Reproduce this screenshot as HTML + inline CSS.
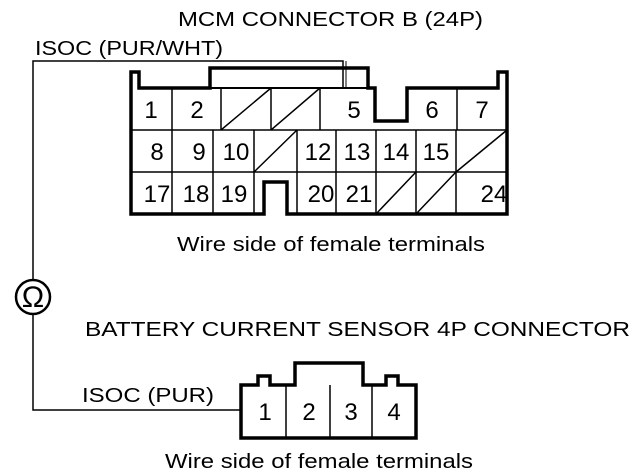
<!DOCTYPE html>
<html><head><style>html,body{margin:0;padding:0;background:#fff}svg{display:block}</style></head>
<body>
<svg width="640" height="474" viewBox="0 0 640 474" xmlns="http://www.w3.org/2000/svg" font-family="Liberation Sans, sans-serif" fill="#000">
<g font-size="20">
<text x="178" y="26" textLength="305" lengthAdjust="spacingAndGlyphs">MCM CONNECTOR B (24P)</text>
<text x="35" y="55" textLength="188" lengthAdjust="spacingAndGlyphs">ISOC (PUR/WHT)</text>
<text x="177" y="251" textLength="308" lengthAdjust="spacingAndGlyphs">Wire side of female terminals</text>
<text x="85" y="336" textLength="545" lengthAdjust="spacingAndGlyphs">BATTERY CURRENT SENSOR 4P CONNECTOR</text>
<text x="82" y="402" textLength="132" lengthAdjust="spacingAndGlyphs">ISOC (PUR)</text>
<text x="165" y="468" textLength="308" lengthAdjust="spacingAndGlyphs">Wire side of female terminals</text>
</g>
<g fill="none" stroke="#000">
<polyline points="33,280 33,61 343,61 343,88" stroke-width="1.5"/>
<line x1="346" y1="61" x2="346" y2="88" stroke-width="1"/>
<circle cx="33" cy="297" r="17" stroke-width="2.5"/>
<polyline points="33,314 33,410 241,410" stroke-width="1.5"/>
<path d="M131,214 L131,72 L139,72 L139,88 L210,88 L210,68 L368,68 L368,88 L375,88 L375,121 L407,121 L407,88 L498,88 L498,72 L507,72 L507,214 L287,214 L287,182 L264,182 L264,214 Z" stroke-width="3.5"/>
<line x1="210" y1="88" x2="368" y2="88" stroke-width="2"/>
<g stroke-width="1.5">
<line x1="131" y1="130" x2="507" y2="130"/>
<line x1="131" y1="172" x2="507" y2="172"/>
<line x1="172" y1="88" x2="172" y2="214"/>
<line x1="221" y1="88" x2="221" y2="130"/>
<line x1="271" y1="88" x2="271" y2="130"/>
<line x1="320" y1="88" x2="320" y2="130"/>
<line x1="457" y1="88" x2="457" y2="130"/>
<line x1="213" y1="130" x2="213" y2="214"/>
<line x1="254" y1="130" x2="254" y2="214"/>
<line x1="297" y1="130" x2="297" y2="214"/>
<line x1="336" y1="130" x2="336" y2="214"/>
<line x1="376" y1="130" x2="376" y2="214"/>
<line x1="416" y1="130" x2="416" y2="214"/>
<line x1="456" y1="130" x2="456" y2="214"/>
<line x1="221" y1="130" x2="271" y2="88"/>
<line x1="271" y1="130" x2="320" y2="88"/>
<line x1="254" y1="172" x2="297" y2="130"/>
<line x1="456" y1="172" x2="507" y2="130"/>
<line x1="376" y1="214" x2="416" y2="172"/>
<line x1="416" y1="214" x2="456" y2="172"/>
</g>
<path d="M241,438 L241,385 L258,385 L258,376 L270,376 L270,385 L295,385 L295,363 L363,363 L363,385 L386,385 L386,376 L398,376 L398,385 L416,385 L416,438 Z" stroke-width="3.5"/>
<g stroke-width="1.5">
<line x1="286" y1="385" x2="286" y2="438"/>
<line x1="330" y1="385" x2="330" y2="438"/>
<line x1="372" y1="385" x2="372" y2="438"/>
</g>
</g>
<text x="33" y="307" font-size="30" text-anchor="middle">Ω</text>
<g font-size="24" text-anchor="middle">
<text x="151" y="118">1</text><text x="197" y="118">2</text><text x="354" y="118">5</text><text x="432" y="118">6</text><text x="482" y="118">7</text>
<text x="157" y="160">8</text><text x="199" y="160">9</text><text x="236" y="160">10</text><text x="318" y="160">12</text><text x="357" y="160">13</text><text x="396" y="160">14</text><text x="436" y="160">15</text>
<text x="157" y="202">17</text><text x="196" y="202">18</text><text x="234" y="202">19</text><text x="321" y="202">20</text><text x="359" y="202">21</text><text x="494" y="202">24</text>
<text x="265" y="420">1</text><text x="309" y="420">2</text><text x="351" y="420">3</text><text x="394" y="420">4</text>
</g>
</svg>
</body></html>
